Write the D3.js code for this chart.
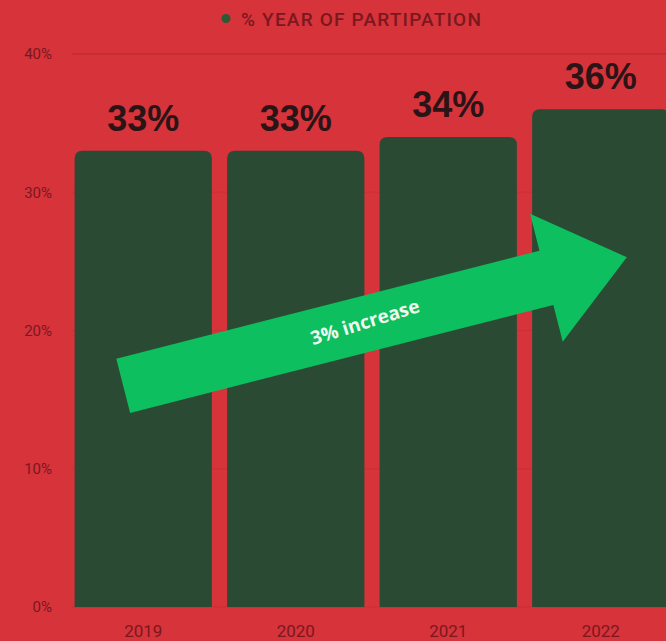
<!DOCTYPE html>
<html>
<head>
<meta charset="utf-8">
<script src="https://cdn.jsdelivr.net/npm/d3@7"></script>
<style>
  html, body { margin: 0; padding: 0; background: #d6333a; }
  svg { display: block; }
</style>
</head>
<body>
<div id="chart"></div>
<script>
// data
const years = ["2019", "2020", "2021", "2022"]
const participation = [33, 33, 34, 36]
const yTicks = [0, 10, 20, 30, 40]
const seriesName = "% YEAR OF PARTIPATION"

// annotation arrow, anchored on the data scales
const arrowFrom = { year: "2019", at: 0.354, value: 16.0 }
const arrowTo = { year: "2022", at: 0.69, value: 25.3 }
const arrowText = "3% increase"

const width = 666
const height = 641

const colors = {
  bg: "#d6333a",
  bar: "#2b4a34",
  grid: "#b52a30",
  gridFaint: "#cc2f36",
  axisText: "#7a1820",
  label: "#2a1416",
  arrow: "#0dbf5e",
  legendDot: "#2b5a35"
}

const svg = d3.select("#chart")
  .append("svg")
  .attr("width", width)
  .attr("height", height)

svg.append("rect")
  .attr("width", width)
  .attr("height", height)
  .attr("fill", colors.bg)

// scales

const x = d3.scaleBand()
  .domain(years)
  .range([67, 677])
  .paddingInner(0.1)
  .paddingOuter(0.05)

const y = d3.scaleLinear()
  .domain([0, 40])
  .range([607, 54])

// gridlines + y labels (only the top one really shows)

svg.append("g")
  .selectAll("line")
  .data(yTicks)
  .join("line")
  .attr("x1", 72)
  .attr("x2", width)
  .attr("y1", d => y(d))
  .attr("y2", d => y(d))
  .attr("stroke", d => d === 40 ? colors.grid : colors.gridFaint)
  .attr("stroke-width", 1.2)

svg.append("g")
  .selectAll("text")
  .data(yTicks)
  .join("text")
  .attr("x", 52)
  .attr("y", d => y(d))
  .attr("dy", "0.35em")
  .attr("text-anchor", "end")
  .attr("fill", colors.axisText)
  .style("font-family", "Roboto, sans-serif")
  .style("font-size", "15px")
  .text(d => d + "%")

// bars, rounded on top only

const r = 8
const barPath = (d, i) => {
  const x0 = x(years[i])
  const x1 = x0 + x.bandwidth()
  const y0 = y(0)
  const y1 = y(d)
  return `M${x0},${y0}V${y1 + r}Q${x0},${y1} ${x0 + r},${y1}H${x1 - r}Q${x1},${y1} ${x1},${y1 + r}V${y0}Z`
}

svg.append("g")
  .selectAll("path")
  .data(participation)
  .join("path")
  .attr("d", barPath)
  .attr("fill", colors.bar)

// value labels

svg.append("g")
  .selectAll("text")
  .data(participation)
  .join("text")
  .attr("x", (d, i) => x(years[i]) + x.bandwidth() / 2)
  .attr("y", d => y(d) - 20)
  .attr("text-anchor", "middle")
  .attr("fill", colors.label)
  .style("font-family", "'Liberation Sans', Arial, sans-serif")
  .style("font-weight", "bold")
  .style("font-size", "36px")
  .text(d => d + "%")

// x labels

svg.append("g")
  .selectAll("text")
  .data(years)
  .join("text")
  .attr("x", d => x(d) + x.bandwidth() / 2)
  .attr("y", 637)
  .attr("text-anchor", "middle")
  .attr("fill", colors.axisText)
  .style("font-family", "Roboto, sans-serif")
  .style("font-size", "17px")
  .text(d => d)

// legend

const legend = svg.append("g")
legend.append("circle")
  .attr("cx", 226)
  .attr("cy", 18.5)
  .attr("r", 4.5)
  .attr("fill", colors.legendDot)
legend.append("text")
  .attr("x", 241)
  .attr("y", 26)
  .attr("fill", colors.axisText)
  .style("font-family", "Roboto, sans-serif")
  .style("font-weight", "500")
  .style("font-size", "19px")
  .style("letter-spacing", "1.2px")
  .text(seriesName)

// arrow

const ax0 = x(arrowFrom.year) + x.bandwidth() * arrowFrom.at
const ay0 = y(arrowFrom.value)
const ax1 = x(arrowTo.year) + x.bandwidth() * arrowTo.at
const ay1 = y(arrowTo.value)
const len = Math.hypot(ax1 - ax0, ay1 - ay0)
const angle = Math.atan2(ay1 - ay0, ax1 - ax0) * 180 / Math.PI

const shaftHalf = 28
const headHalf = 66
const headLen = 83

const arrowPoints = [
  [0, -shaftHalf],
  [len - headLen, -shaftHalf],
  [len - headLen, -headHalf],
  [len, 0],
  [len - headLen, headHalf],
  [len - headLen, shaftHalf],
  [0, shaftHalf]
]

const arrow = svg.append("g")
  .attr("transform", `translate(${ax0},${ay0}) rotate(${angle})`)

arrow.append("path")
  .attr("d", d3.line()(arrowPoints) + "Z")
  .attr("fill", colors.arrow)

arrow.append("text")
  .attr("transform", "translate(250,-2) rotate(-3)")
  .attr("dy", "0.35em")
  .attr("text-anchor", "middle")
  .attr("fill", "#eef8ee")
  .style("font-family", "'Open Sans', sans-serif")
  .style("font-weight", "700")
  .style("font-size", "19px")
  .text(arrowText)
</script>
</body>
</html>
